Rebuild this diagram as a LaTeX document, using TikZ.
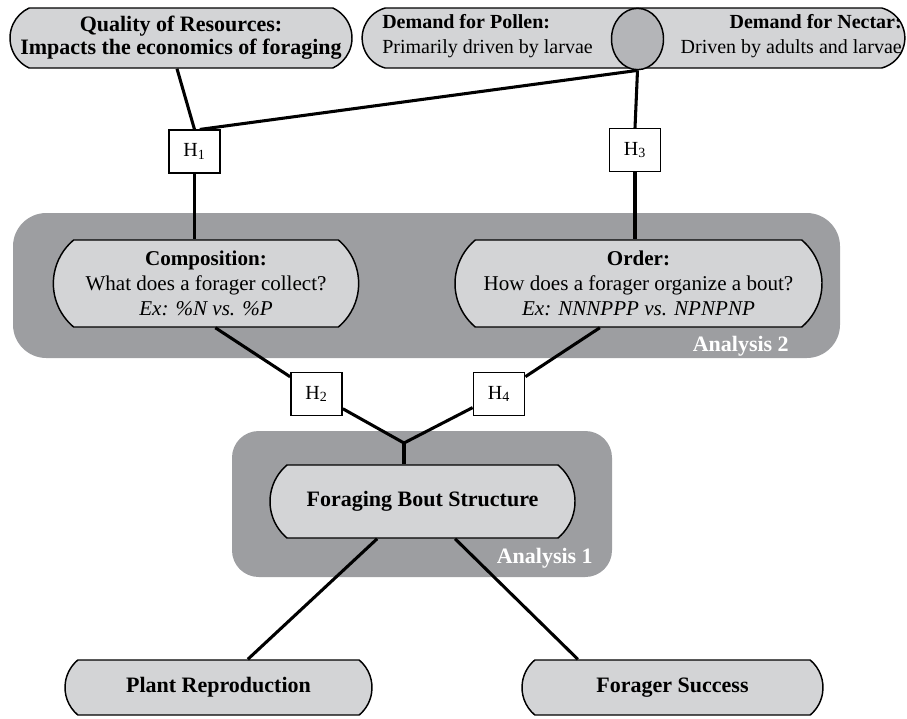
\documentclass[tikz,border=0pt]{standalone}
\usepackage{fontspec}
\setmainfont{Liberation Serif}
\usetikzlibrary{shapes.misc,shapes.geometric}
\definecolor{boxfill}{HTML}{D3D4D6}
\definecolor{bgfill}{HTML}{9D9EA1}
\definecolor{circfill}{HTML}{B4B5B8}
\tikzset{
  pill/.style={rounded rectangle, draw=black, line width=1.1pt, fill=boxfill, align=center, inner sep=0pt},
  hbox/.style={draw=black, line width=1.1pt, fill=white, minimum width=38.5pt, minimum height=32pt, inner sep=0pt, font=\fontsize{15}{16}\selectfont},
  link/.style={line width=2.3pt},
  bgpanel/.style={fill=bgfill, rounded corners=25pt},
  alabel/.style={text=white, font=\fontsize{16.5}{18}\selectfont\bfseries, anchor=east, inner sep=0pt},
  txt/.style={font=\fontsize{15.8}{18.7}\selectfont},
  btxt/.style={font=\fontsize{16.5}{17.2}\selectfont\bfseries},
  dtxt/.style={font=\fontsize{15}{18.7}\selectfont}
}
\begin{document}
\begin{tikzpicture}[x=0.75pt,y=-0.75pt]
\useasboundingbox (0,0) rectangle (907,718);
% background panels
\fill[bgpanel] (13,213) rectangle (840,358);
\fill[bgpanel, rounded corners=20pt] (232,431) rectangle (612,577);
% top nodes
\node[pill, minimum width=256.5pt, minimum height=45pt, rounded rectangle arc length=130, btxt] (quality) at (181,38) {Quality of Resources:\\Impacts the economics of foraging};
\node[pill, minimum width=407pt, minimum height=45pt, rounded rectangle arc length=150] (demand) at (633.5,38) {};
\node[ellipse, draw=black, line width=1.1pt, fill=circfill, minimum width=39pt, minimum height=46pt, inner sep=0pt] (circ) at (637.5,39) {};
\node[dtxt, anchor=west, align=left, inner sep=0pt] (pollen) at (382,36) {\textbf{Demand for Pollen:}\\Primarily driven by larvae};
\node[dtxt, anchor=east, align=right, inner sep=0pt] (nectar) at (902,36) {\textbf{Demand for Nectar:}\\Driven by adults and larvae};
% hypothesis boxes
\node[hbox] (h1) at (194.5,151.5) {H\textsubscript{1}};
\node[hbox] (h3) at (635,150) {H\textsubscript{3}};
\node[hbox] (h2) at (316.5,394) {H\textsubscript{2}};
\node[hbox] (h4) at (499,394) {H\textsubscript{4}};
% analysis 2 nodes
\node[pill, minimum width=229pt, minimum height=65.25pt, rounded rectangle arc length=100, txt] (comp) at (206,283.5) {\textbf{Composition:}\\What does a forager collect?\\\textit{Ex: \%N vs. \%P}};
\node[pill, minimum width=275.25pt, minimum height=65.25pt, rounded rectangle arc length=100, txt] (order) at (638.5,283.5) {\textbf{Order:}\\How does a forager organize a bout?\\\textit{Ex: NNNPPP vs. NPNPNP}};
\node[alabel] (a2) at (789,346) {Analysis 2};
% analysis 1
\node[pill, minimum width=228.75pt, minimum height=54.75pt, rounded rectangle arc length=100, btxt] (fbs) at (422.5,501.5) {Foraging Bout Structure};
\node[alabel] (a1) at (593,558) {Analysis 1};
% outcomes
\node[pill, minimum width=230.25pt, minimum height=41.25pt, rounded rectangle arc length=100, btxt] (plant) at (218.5,687.5) {Plant Reproduction};
\node[pill, minimum width=225.75pt, minimum height=41.25pt, rounded rectangle arc length=100, btxt] (success) at (672.5,687.5) {Forager Success};
\coordinate (junc) at (404,443);
% connectors
\draw[link] ([xshift=-3pt]quality.south) -- (h1.north);
\draw[link] (circ.south) -- ([xshift=4pt]h1.north);
\draw[link] (circ.south) -- (h3.north);
\draw[link] (h1.south) -- (h1.south |- comp.north);
\draw[link] (h3.south) -- (h3.south |- order.north);
\draw[link] ([xshift=7pt]comp.south) -- (h2);
\draw[link] ([xshift=-29pt]order.south) -- (h4);
\draw[link] (h2) -- (junc);
\draw[link] (h4) -- (junc);
\draw[link] (junc) -- (junc |- fbs.north);
\draw[link] ([xshift=-34pt]fbs.south) -- ([xshift=22pt]plant.north);
\draw[link] ([xshift=24.4pt]fbs.south) -- ([xshift=-71pt]success.north);
\end{tikzpicture}
\end{document}
